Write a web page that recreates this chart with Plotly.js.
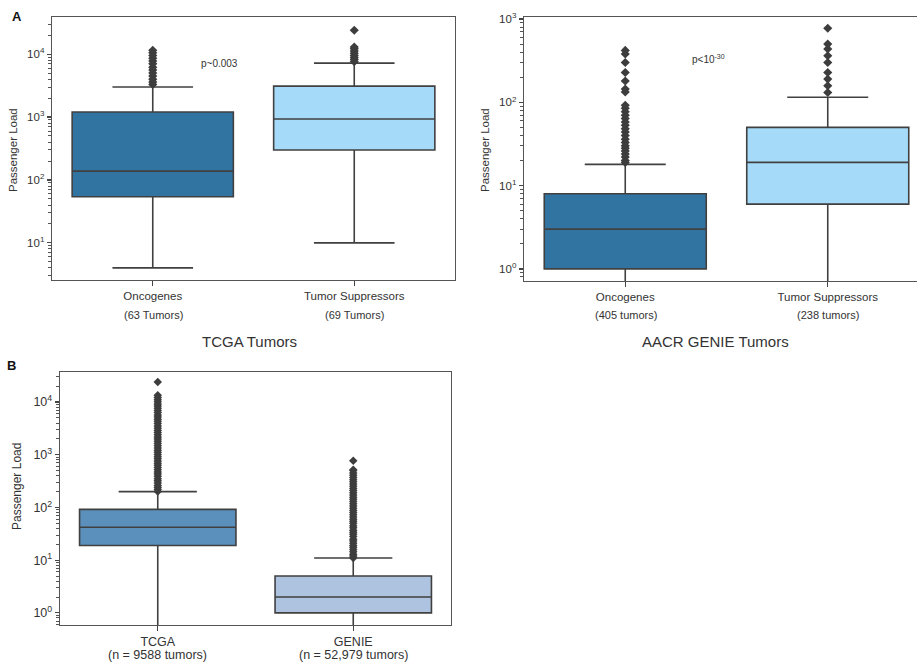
<!DOCTYPE html>
<html>
<head>
<meta charset="utf-8">
<script src="https://cdn.plot.ly/plotly-3.0.1.min.js"></script>
<style>
html,body{margin:0;padding:0;overflow:hidden;background:#fff;}
#chart{width:930px;height:665px;}
</style>
</head>
<body>
<div id="chart"></div>
<script>
// ---------- DATA ----------
// Panel A (left): TCGA tumors
const tcgaCats = ["Oncogenes", "Tumor Suppressors"];
const tcgaCounts = ["(63 Tumors)", "(69 Tumors)"];
const tcgaQ1 = [54, 300];
const tcgaMedian = [138, 930];
const tcgaQ3 = [1200, 3100];
const tcgaLow = [4, 10];
const tcgaHigh = [3000, 7200];
const tcgaOncOutliers = [3300, 3600, 4000, 4500, 5000, 5600, 6200, 7000, 7800, 8600, 9500, 10500, 11500];
const tcgaTsOutliers = [7600, 8200, 8800, 9500, 10300, 11200, 12200, 13000, 24000];

// Panel A (right): AACR GENIE tumors
const genieCats = ["Oncogenes", "Tumor Suppressors"];
const genieCounts = ["(405 tumors)", "(238 tumors)"];
const genieQ1 = [1, 6];
const genieMedian = [3, 19];
const genieQ3 = [8, 50];
const genieLow = [0.05, 0.05];
const genieHigh = [18, 115];
const genieOncOutliers = [19, 20, 22, 24, 26, 28, 30, 33, 36, 40, 44, 48, 53, 58, 64, 70, 77, 85, 92, 133, 144, 180, 228, 300, 380, 420];
const genieTsOutliers = [131, 158, 190, 228, 300, 362, 436, 500, 775];

// Panel B: all tumors
const allCats = ["TCGA", "GENIE"];
const allCounts = ["(n = 9588 tumors)", "(n = 52,979 tumors)"];
const allQ1 = [19, 1];
const allMedian = [42, 2];
const allQ3 = [92, 5];
const allLow = [0.05, 0.05];
const allHigh = [200, 11];
const allTcgaOutliers = [200, 220, 240, 260, 290, 320, 350, 390, 430, 470, 520, 570, 630, 690, 760, 840, 920, 1010, 1110, 1220, 1350, 1480, 1630, 1800, 1980, 2180, 2400, 2640, 2900, 3200, 3500, 3900, 4300, 4700, 5200, 5700, 6300, 6900, 7600, 8400, 9200, 10100, 11100, 12200, 13400, 24000];
const allGenieOutliers = [11, 12, 13, 14.5, 16, 17.5, 19, 21, 23, 25, 28, 31, 34, 37, 41, 45, 50, 55, 60, 66, 73, 80, 88, 97, 107, 118, 130, 143, 157, 173, 190, 209, 230, 253, 278, 306, 336, 370, 407, 450, 500, 520, 770];

// Log tick labels
const tickValsA1 = [10, 100, 1000, 10000];
const tickTextA1 = ["10<sup>1</sup>", "10<sup>2</sup>", "10<sup>3</sup>", "10<sup>4</sup>"];
const tickValsA2 = [1, 10, 100, 1000];
const tickTextA2 = ["10<sup>0</sup>", "10<sup>1</sup>", "10<sup>2</sup>", "10<sup>3</sup>"];
const tickValsB = [1, 10, 100, 1000, 10000];
const tickTextB = ["10<sup>0</sup>", "10<sup>1</sup>", "10<sup>2</sup>", "10<sup>3</sup>", "10<sup>4</sup>"];

// ---------- STYLE ----------
const W = 930, H = 665;
const FONT = "Liberation Sans, Arial, Helvetica, sans-serif";
const EDGE = "#404040";
const cOnc = "#3274a1", cTs = "#a5dbf8", cTcga = "#5a90bb", cGenie = "#adc3df";
const px = v => v / W;
const py = v => 1 - v / H;

function box(xa, ya, i, q1, med, q3, lo, hi, color) {
  return {
    type: "box", xaxis: xa, yaxis: ya,
    x: [i], q1: [q1[i]], median: [med[i]], q3: [q3[i]],
    lowerfence: [lo[i]], upperfence: [hi[i]],
    width: 0.8, whiskerwidth: 0.5,
    fillcolor: color, line: {color: EDGE, width: 1.6},
    boxpoints: false, hoverinfo: "skip", showlegend: false
  };
}
function outl(xa, ya, i, vals, size) {
  return {
    type: "scatter", mode: "markers", xaxis: xa, yaxis: ya,
    x: vals.map(() => i), y: vals,
    marker: {symbol: "diamond", size: size, color: "#3d3d3d", line: {width: 0}},
    hoverinfo: "skip", showlegend: false, cliponaxis: true
  };
}

const traces = [
  box("x", "y", 0, tcgaQ1, tcgaMedian, tcgaQ3, tcgaLow, tcgaHigh, cOnc),
  box("x", "y", 1, tcgaQ1, tcgaMedian, tcgaQ3, tcgaLow, tcgaHigh, cTs),
  outl("x", "y", 0, tcgaOncOutliers, 7),
  outl("x", "y", 1, tcgaTsOutliers, 7),
  box("x2", "y2", 0, genieQ1, genieMedian, genieQ3, genieLow, genieHigh, cOnc),
  box("x2", "y2", 1, genieQ1, genieMedian, genieQ3, genieLow, genieHigh, cTs),
  outl("x2", "y2", 0, genieOncOutliers, 7),
  outl("x2", "y2", 1, genieTsOutliers, 7),
  box("x3", "y3", 0, allQ1, allMedian, allQ3, allLow, allHigh, cTcga),
  box("x3", "y3", 1, allQ1, allMedian, allQ3, allLow, allHigh, cGenie),
  outl("x3", "y3", 0, allTcgaOutliers, 6.5),
  outl("x3", "y3", 1, allGenieOutliers, 6.5)
];

function xax(domain, cats, anchor, size) {
  return {
    domain: domain, anchor: anchor, range: [-0.5, 1.5],
    tickmode: "array", tickvals: [0, 1], ticktext: cats,
    ticks: "outside", ticklen: 5, tickwidth: 1.2, tickcolor: "#444",
    showline: true, mirror: true, linecolor: "#555", linewidth: 1.3,
    showgrid: false, zeroline: false,
    tickfont: {family: FONT, size: size, color: "#333"}
  };
}
function yax(domain, range, tv, tt, anchor, size) {
  return {
    domain: domain, anchor: anchor, type: "log", range: range,
    tickmode: "array", tickvals: tv, ticktext: tt,
    ticks: "outside", ticklen: 4, tickwidth: 1.2, tickcolor: "#444",
    minor: {ticks: "outside", ticklen: 2.5, tickwidth: 1, tickcolor: "#555", dtick: "D1", showgrid: false},
    showline: true, mirror: true, linecolor: "#555", linewidth: 1.3,
    showgrid: false, zeroline: false,
    tickfont: {family: FONT, size: size, color: "#333"}
  };
}

const annotations = [];
function ann(text, x, y, size, opts) {
  annotations.push(Object.assign({
    text: text, xref: "paper", yref: "paper", x: px(x), y: py(y),
    xanchor: "center", yanchor: "middle", showarrow: false,
    font: {family: FONT, size: size, color: "#333"}
  }, opts || {}));
}
// panel letters
ann("<b>A</b>", 17, 16, 13, {font: {family: FONT, size: 13, color: "#111"}});
ann("<b>B</b>", 11, 365, 13, {font: {family: FONT, size: 13, color: "#111"}});
// y titles
ann("Passenger Load", 13, 150, 11.5, {textangle: -90});
ann("Passenger Load", 485, 150, 11.5, {textangle: -90});
ann("Passenger Load", 17, 487, 12, {textangle: -90});
// x titles
ann("TCGA Tumors", 249, 342, 15);
ann("AACR GENIE Tumors", 715, 342, 15);
// counts (second line of category labels)
const aCenters = [153, 354], a2Centers = [626, 828], bCenters = [157, 353];
tcgaCounts.forEach((t, i) => ann(t, aCenters[i], 315, 11));
genieCounts.forEach((t, i) => ann(t, a2Centers[i], 315, 11));
allCounts.forEach((t, i) => ann(t, bCenters[i], 655, 12.5));
// p-values
ann("p~0.003", 219, 64, 10);
ann("p&lt;10<sup>-30</sup>", 708, 59, 10);

const layout = {
  width: W, height: H,
  margin: {l: 0, r: 0, t: 0, b: 0},
  paper_bgcolor: "#fff", plot_bgcolor: "#fff",
  showlegend: false,
  font: {family: FONT, color: "#333"},
  xaxis: xax([px(52), px(455)], tcgaCats, "y", 11.5),
  yaxis: yax([py(280), py(17)], [0.41, 4.59], tickValsA1, tickTextA1, "x", 11.5),
  xaxis2: xax([px(524), px(929)], genieCats, "y2", 11.5),
  yaxis2: yax([py(281), py(17)], [-0.145, 3.024], tickValsA2, tickTextA2, "x2", 11.5),
  xaxis3: xax([px(60), px(451)], allCats, "y3", 12.5),
  yaxis3: yax([py(625), py(372)], [-0.23, 4.57], tickValsB, tickTextB, "x3", 12.5),
  annotations: annotations
};

Plotly.newPlot("chart", traces, layout, {displayModeBar: false, staticPlot: true});
</script>
</body>
</html>
